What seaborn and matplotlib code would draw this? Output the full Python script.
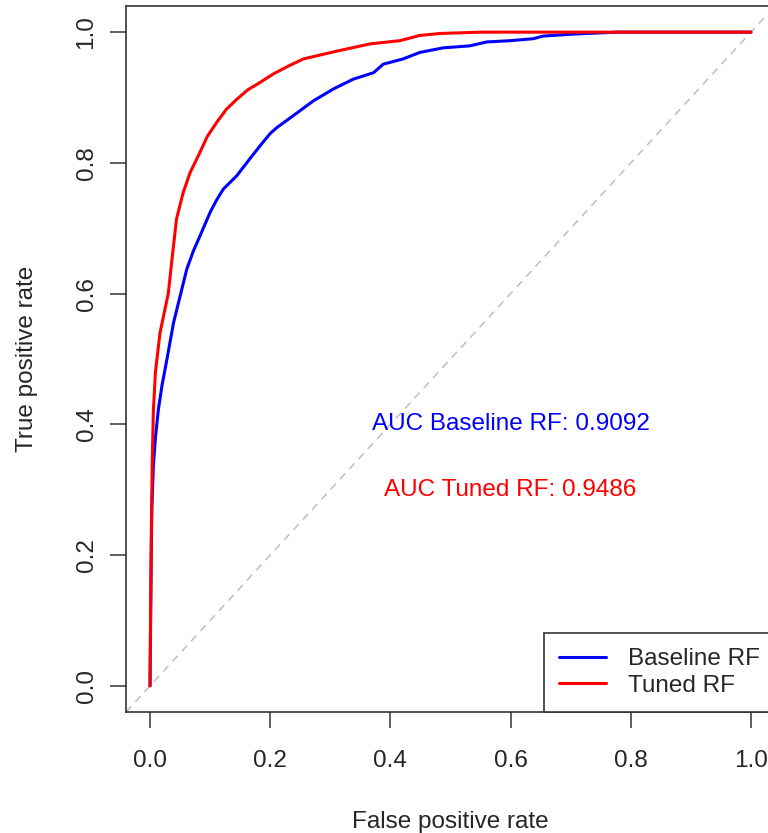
import numpy as np
import pandas as pd
import matplotlib.pyplot as plt
import seaborn as sns

# ROC curves
baseline_fpr = [0, 0.001, 0.002, 0.003, 0.0055, 0.009, 0.0139, 0.02, 0.028, 0.039,
                0.05, 0.061, 0.072, 0.083, 0.0998, 0.11, 0.122, 0.144, 0.165, 0.183,
                0.2, 0.211, 0.238, 0.272, 0.305, 0.338, 0.372, 0.388, 0.421, 0.449,
                0.488, 0.532, 0.56, 0.6, 0.638, 0.654, 0.704, 0.777, 0.85, 1.0]
baseline_tpr = [0, 0.1, 0.2, 0.27, 0.336, 0.38, 0.423, 0.46, 0.499, 0.555,
                0.596, 0.637, 0.665, 0.688, 0.724, 0.742, 0.76, 0.78, 0.805, 0.826,
                0.845, 0.854, 0.872, 0.895, 0.913, 0.928, 0.938, 0.951, 0.959, 0.969,
                0.976, 0.979, 0.985, 0.987, 0.99, 0.994, 0.997, 1.0, 1.0, 1.0]

tuned_fpr = [0, 0.001, 0.002, 0.0035, 0.0055, 0.009, 0.0166, 0.0305, 0.036, 0.044,
             0.055, 0.0666, 0.083, 0.095, 0.111, 0.127, 0.144, 0.163, 0.183, 0.205,
             0.23, 0.255, 0.311, 0.366, 0.416, 0.449, 0.483, 0.55, 1.0]
tuned_tpr = [0, 0.12, 0.22, 0.335, 0.42, 0.48, 0.54, 0.601, 0.648, 0.714,
             0.754, 0.785, 0.816, 0.84, 0.862, 0.882, 0.897, 0.912, 0.923, 0.936,
             0.948, 0.959, 0.971, 0.982, 0.987, 0.995, 0.998, 1.0, 1.0]

model_names = ["Baseline RF", "Tuned RF"]
auc_values = [0.9092, 0.9486]

sns.set_style("white")
plt.rcParams["font.family"] = ["Liberation Sans", "DejaVu Sans"]
fs = 17.5

df = pd.concat([
    pd.DataFrame({"fpr": baseline_fpr, "tpr": baseline_tpr, "model": model_names[0]}),
    pd.DataFrame({"fpr": tuned_fpr, "tpr": tuned_tpr, "model": model_names[1]}),
])

fig = plt.figure(figsize=(7.68, 8.33), dpi=100)
ax = fig.add_axes([126 / 768, 121 / 833, 649 / 768, 706 / 833])

# chance line
ax.axline((0, 0), (1, 1), color="#bebebe", linestyle=(0, (5, 4)), linewidth=1.1, zorder=1)

sns.lineplot(data=df, x="fpr", y="tpr", hue="model", palette=["#0000ff", "#ff0000"],
             estimator=None, sort=False, linewidth=2.2, legend=False, ax=ax, zorder=3)

ax.set_xlim(-0.04, 1.04)
ax.set_ylim(-0.04, 1.04)
ticks = [0.0, 0.2, 0.4, 0.6, 0.8, 1.0]
ax.set_xticks(ticks)
ax.set_yticks(ticks)
ax.set_xticklabels([f"{t:.1f}" for t in ticks])
ax.set_yticklabels([f"{t:.1f}" for t in ticks], rotation=90, va="center")
ax.tick_params(axis="both", direction="out", length=11.5, width=1.1, color="#333333",
               labelsize=fs, bottom=True, left=True)
ax.tick_params(axis="x", pad=16)
ax.tick_params(axis="y", pad=9)
for s in ax.spines.values():
    s.set_color("#333333")
    s.set_linewidth(1.2)

ax.set_xlabel("False positive rate", fontsize=fs, labelpad=28)
ax.set_ylabel("True positive rate", fontsize=fs, labelpad=27)

ax.text(0.6, 0.4, f"AUC {model_names[0]}: {auc_values[0]}", color="#0000ff",
        fontsize=fs, ha="center", va="center")
ax.text(0.6, 0.3, f"AUC {model_names[1]}: {auc_values[1]}", color="#ff0000",
        fontsize=fs, ha="center", va="center")

handles = [plt.Line2D([], [], color="#0000ff", linewidth=2.2),
           plt.Line2D([], [], color="#ff0000", linewidth=2.2)]
leg = ax.legend(handles, model_names, loc="lower right", borderaxespad=0, fontsize=fs,
                frameon=True, fancybox=False, framealpha=1, edgecolor="#333333",
                handlelength=1.95, handletextpad=0.9, labelspacing=0.2, borderpad=0.62)
leg.get_frame().set_linewidth(1.2)

fig.savefig("out.png", dpi=100)
